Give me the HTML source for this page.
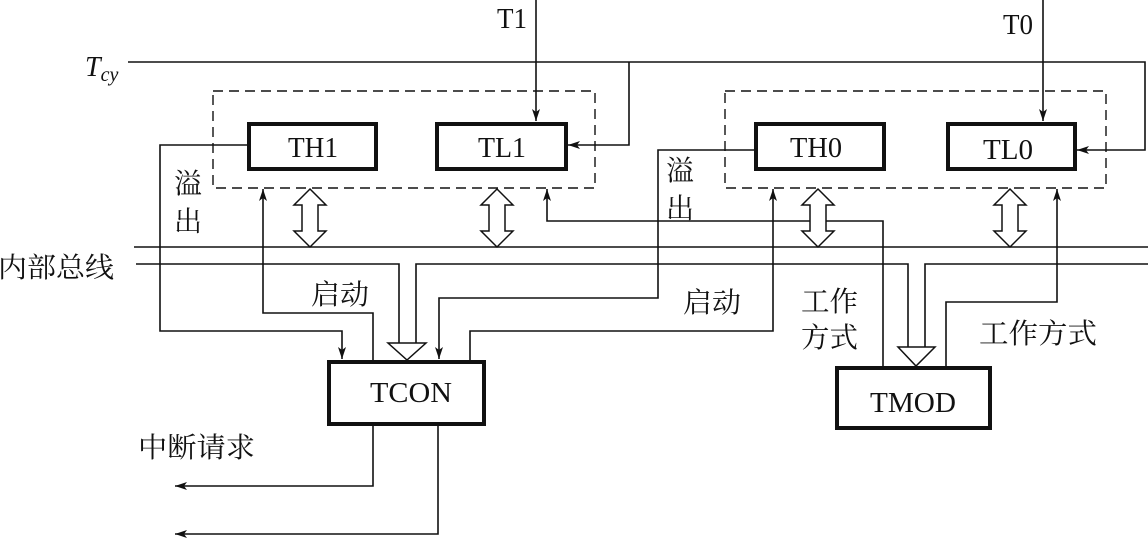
<!DOCTYPE html>
<html><head><meta charset="utf-8"><style>
html,body{margin:0;padding:0;background:#fff;}
svg{display:block;}
text{font-family:"Liberation Serif","Noto Serif CJK SC",serif;fill:#111;}
.cjk{font-family:"Liberation Serif","Noto Serif CJK SC","Noto Sans CJK SC",serif;}
</style></head><body>
<svg width="1148" height="539" viewBox="0 0 1148 539" xmlns="http://www.w3.org/2000/svg">
<defs>
<marker id="a" viewBox="0 0 12 8" refX="12" refY="4" markerWidth="12" markerHeight="8" markerUnits="userSpaceOnUse" orient="auto">
<path d="M0,0 L12,4 L0,8 L3,4 z" fill="#111"/></marker>
</defs>
<g fill="none" stroke="#111" stroke-width="1.6">
<rect x="213" y="91" width="382" height="97" stroke-dasharray="10,6" stroke-width="1.4"/>
<rect x="725" y="91" width="381" height="97" stroke-dasharray="10,6" stroke-width="1.4"/>
<path d="M128,62 H1145 V150 H1077" marker-end="url(#a)"/>
<path d="M629,62 V145 H568" marker-end="url(#a)"/>
<path d="M536,0 V121" marker-end="url(#a)"/>
<path d="M1043,0 V121" marker-end="url(#a)"/>
<path d="M134,247 H1148"/>
<path d="M136,264 H399 V343"/>
<path d="M416,343 V264 H908 V347"/>
<path d="M925,347 V264 H1148"/>
<path d="M247,145 H160 V331 H342 V359" marker-end="url(#a)"/>
<path d="M373,360 V313 H263 V189" marker-end="url(#a)"/>
<path d="M755,150 H658 V298 H439 V359" marker-end="url(#a)"/>
<path d="M470,360 V331 H773 V189" marker-end="url(#a)"/>
<path d="M883,367 V221 H547 V189" marker-end="url(#a)"/>
<path d="M946,367 V302 H1057 V189" marker-end="url(#a)"/>
<path d="M373,426 V486 H175" marker-end="url(#a)"/>
<path d="M438,426 V534 H175" marker-end="url(#a)"/>
</g>
<g fill="#fff" stroke="#111" stroke-width="1.5">
<path d="M388,343 H426 L407,360 Z"/>
<path d="M898,347 H935 L916,366 Z"/>
<path d="M310,189 L326,205 H318 V231 H326 L310,247 L294,231 H302 V205 H294 Z"/>
<path d="M497,189 L513,205 H505 V231 H513 L497,247 L481,231 H489 V205 H481 Z"/>
<path d="M818,189 L834,205 H826 V231 H834 L818,247 L802,231 H810 V205 H802 Z"/>
<path d="M1010,189 L1026,205 H1018 V231 H1026 L1010,247 L994,231 H1002 V205 H994 Z"/>
</g>
<g fill="#fff" stroke="#111" stroke-width="4">
<rect x="249" y="124" width="127" height="45"/>
<rect x="437" y="124" width="129" height="45"/>
<rect x="756" y="124" width="128" height="45"/>
<rect x="948" y="124" width="127" height="45"/>
<rect x="329" y="362" width="155" height="62"/>
<rect x="837" y="368" width="153" height="60"/>
</g>
<g font-size="28">
<text x="288" y="157" textLength="50" lengthAdjust="spacingAndGlyphs">TH1</text>
<text x="478" y="157" textLength="48" lengthAdjust="spacingAndGlyphs">TL1</text>
<text x="790" y="157" textLength="52" lengthAdjust="spacingAndGlyphs">TH0</text>
<text x="983" y="159" textLength="50" lengthAdjust="spacingAndGlyphs">TL0</text>
<text x="370" y="402" textLength="82" lengthAdjust="spacingAndGlyphs">TCON</text>
<text x="870" y="412" textLength="86" lengthAdjust="spacingAndGlyphs">TMOD</text>
<text x="497" y="28" textLength="30" lengthAdjust="spacingAndGlyphs">T1</text>
<text x="1003" y="34" textLength="30" lengthAdjust="spacingAndGlyphs">T0</text>
</g>
<text x="85" y="76" font-size="28" font-style="italic">T<tspan font-size="20" dy="5">cy</tspan></text>
<g class="cjk" font-size="28">
<text x="174" y="193">溢</text>
<text x="174" y="231">出</text>
<text x="666" y="180">溢</text>
<text x="666" y="218">出</text>
<text x="311" y="304" textLength="58" lengthAdjust="spacingAndGlyphs">启动</text>
<text x="683" y="312" textLength="58" lengthAdjust="spacingAndGlyphs">启动</text>
<text x="801" y="311" textLength="57" lengthAdjust="spacingAndGlyphs">工作</text>
<text x="801" y="347" textLength="57" lengthAdjust="spacingAndGlyphs">方式</text>
<text x="979" y="343" textLength="118" lengthAdjust="spacingAndGlyphs">工作方式</text>
<text x="138" y="457" textLength="117" lengthAdjust="spacingAndGlyphs">中断请求</text>
<text x="-2" y="277" textLength="116" lengthAdjust="spacingAndGlyphs">内部总线</text>
</g>
</svg>
</body></html>
